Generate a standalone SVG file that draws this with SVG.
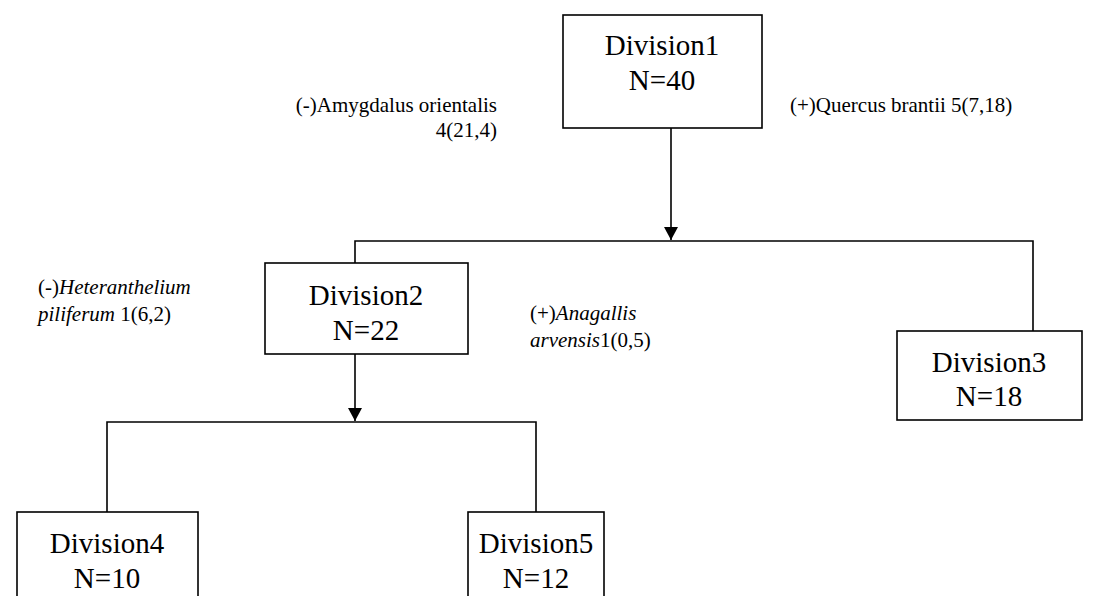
<svg xmlns="http://www.w3.org/2000/svg" width="1112" height="596" viewBox="0 0 1112 596">
<style>
.box{fill:#fff;stroke:#000;stroke-width:1.6}
.t{font-family:'Liberation Serif','Times New Roman',Times,serif;font-size:29px;fill:#000;text-anchor:middle}
.lab{font-family:'Liberation Serif','Times New Roman',Times,serif;font-size:21px;fill:#000}
.c{fill:none;stroke:#000;stroke-width:1.6}
</style>
<defs>
<marker id="arr" markerUnits="userSpaceOnUse" markerWidth="14" markerHeight="14" refX="13" refY="7" orient="auto">
<path d="M0,0 L13,7 L0,14 Z" fill="#000"/>
</marker>
</defs>
<rect width="1112" height="596" fill="#fff"/>
<g id="connectors">
<line class="c" x1="671" y1="128" x2="671" y2="240" marker-end="url(#arr)"/>
<polyline class="c" points="355,263 355,241 1033,241 1033,331"/>
<line class="c" x1="355" y1="354" x2="355" y2="421" marker-end="url(#arr)"/>
<polyline class="c" points="107,512 107,422 536,422 536,512"/>
</g>
<g id="division1">
<rect class="box" x="563" y="15" width="199" height="113"/>
<text class="t" x="662" y="55">Division1</text>
<text class="t" x="662" y="90">N=40</text>
</g>
<g id="division2">
<rect class="box" x="265" y="263" width="203" height="91"/>
<text class="t" x="366" y="305">Division2</text>
<text class="t" x="366" y="340">N=22</text>
</g>
<g id="division3">
<rect class="box" x="897" y="331" width="185" height="89"/>
<text class="t" x="989" y="372">Division3</text>
<text class="t" x="989" y="406">N=18</text>
</g>
<g id="division4">
<rect class="box" x="17" y="512" width="181" height="100"/>
<text class="t" x="107" y="553">Division4</text>
<text class="t" x="107" y="588">N=10</text>
</g>
<g id="division5">
<rect class="box" x="468" y="512" width="136" height="100"/>
<text class="t" x="536" y="553">Division5</text>
<text class="t" x="536" y="588">N=12</text>
</g>
<g id="labels">
<text class="lab" x="497" y="112" text-anchor="end">(-)Amygdalus orientalis</text>
<text class="lab" x="497" y="137" text-anchor="end">4(21,4)</text>
<text class="lab" x="790" y="112">(+)Quercus brantii 5(7,18)</text>
<text class="lab" x="38" y="294">(-)<tspan font-style="italic">Heteranthelium</tspan></text>
<text class="lab" x="38" y="321"><tspan font-style="italic">piliferum</tspan> 1(6,2)</text>
<text class="lab" x="530" y="320">(+)<tspan font-style="italic">Anagallis</tspan></text>
<text class="lab" x="530" y="347"><tspan font-style="italic">arvensis</tspan>1(0,5)</text>
</g>
</svg>
